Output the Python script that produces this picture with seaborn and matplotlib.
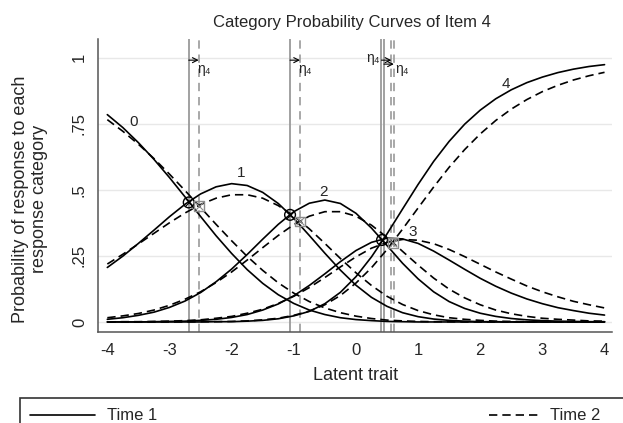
import pandas as pd
import matplotlib
matplotlib.use("Agg")
import matplotlib.pyplot as plt
import seaborn as sns
from matplotlib.lines import Line2D
from matplotlib.patches import Rectangle

# ---- data ----
theta = [-4.0, -3.75, -3.5, -3.25, -3.0, -2.75, -2.5, -2.25, -2.0, -1.75, -1.5, -1.25, -1.0,
         -0.75, -0.5, -0.25, 0.0, 0.25, 0.5, 0.75, 1.0, 1.25, 1.5, 1.75, 2.0, 2.25, 2.5, 2.75,
         3.0, 3.25, 3.5, 3.75, 4.0]

t1_cat0 = [.784, .735, .678, .615, .546, .473, .399, .326, .259, .198, .146, .103, .070, .045, .028, .016, .009,
           .005, .002, .001, .000, .000, .000, .000, .000, .000, .000, .000, .000, .000, .000, .000, .000]
t1_cat1 = [.206, .249, .297, .347, .398, .445, .484, .511, .523, .516, .490, .448, .392, .327, .260, .196, .139,
           .093, .059, .035, .020, .011, .006, .003, .001, .001, .000, .000, .000, .000, .000, .000, .000]
t1_cat2 = [.010, .016, .025, .037, .055, .079, .111, .152, .200, .255, .313, .369, .417, .449, .461, .448, .411,
           .355, .289, .222, .163, .114, .077, .051, .033, .021, .013, .008, .005, .003, .002, .001, .001]
t1_cat3 = [.000, .000, .000, .001, .002, .003, .006, .010, .017, .028, .045, .068, .099, .138, .182, .228, .270,
           .301, .317, .314, .297, .268, .234, .199, .165, .135, .109, .087, .069, .054, .043, .033, .026]
t1_cat4 = [.000, .000, .000, .000, .000, .000, .000, .001, .001, .003, .006, .012, .023, .040, .069, .112, .171,
           .246, .333, .427, .520, .607, .683, .748, .801, .844, .878, .905, .926, .943, .956, .966, .973]

t2_cat0 = [.765, .721, .672, .618, .559, .497, .433, .369, .307, .248, .195, .148, .109, .077, .053, .035, .022,
           .013, .007, .004, .002, .001, .001, .000, .000, .000, .000, .000, .000, .000, .000, .000, .000]
t2_cat1 = [.219, .256, .295, .335, .375, .412, .444, .468, .481, .481, .468, .440, .401, .352, .297, .240, .186,
           .138, .097, .066, .043, .027, .016, .010, .006, .003, .002, .001, .001, .000, .000, .000, .000]
t2_cat2 = [.016, .023, .032, .045, .063, .086, .114, .149, .189, .234, .281, .327, .368, .400, .417, .417, .400,
           .366, .320, .267, .215, .166, .124, .091, .065, .045, .031, .021, .014, .010, .007, .004, .003]
t2_cat3 = [.000, .001, .001, .002, .003, .005, .008, .014, .021, .033, .048, .070, .097, .130, .168, .208, .246,
           .279, .301, .312, .309, .296, .274, .247, .218, .189, .162, .136, .114, .095, .078, .065, .053]
t2_cat4 = [.000, .000, .000, .000, .000, .000, .001, .001, .002, .004, .008, .014, .025, .041, .065, .100, .147,
           .205, .274, .351, .431, .510, .585, .652, .711, .762, .805, .841, .871, .895, .915, .931, .944]

thresholds_t1 = [-2.69, -1.06, 0.41, 0.45]
thresholds_t2 = [-2.53, -0.90, 0.57, 0.61]
cross_t1_x = [-2.69, -1.06, 0.42]
cross_t1_y = [0.452, 0.405, 0.31]
cross_t2_x = [-2.53, -0.90, 0.59]
cross_t2_y = [0.44, 0.38, 0.30]
categories = ["0", "1", "2", "3", "4"]
cat_label_x = [-3.57, -1.85, -0.52, 0.92, 2.42]
cat_label_y = [0.755, 0.565, 0.49, 0.34, 0.90]
x_ticks = [-4, -3, -2, -1, 0, 1, 2, 3, 4]
y_ticks = [0, .25, .5, .75, 1]
y_tick_labels = ["0", ".25", ".5", ".75", "1"]

series = {"Time 1": [t1_cat0, t1_cat1, t1_cat2, t1_cat3, t1_cat4],
          "Time 2": [t2_cat0, t2_cat1, t2_cat2, t2_cat3, t2_cat4]}
rows = []
for t, curves in series.items():
    for k, vals in enumerate(curves):
        for th, v in zip(theta, vals):
            rows.append((th, v, categories[k], t))
df = pd.DataFrame(rows, columns=["theta", "prob", "cat", "time"])

# ---- drawing ----
W, H = 623, 423
sns.set_style("white")
plt.rcParams["font.family"] = ["Liberation Sans", "DejaVu Sans"]
fig = plt.figure(figsize=(6.23, 4.23), dpi=100)
ax = fig.add_axes([98/W, 1-332/H, 514/W, 293/H])
ax.set_xlim(-4.15, 4.12); ax.set_ylim(-0.038, 1.07)
for y in y_ticks:
    ax.axhline(y, color="#e8e8e8", lw=1, zorder=0)
for x in thresholds_t1:
    ax.axvline(x, color="#9a9a9a", lw=1.3, zorder=1)
for x in thresholds_t2:
    ax.axvline(x, color="#9a9a9a", lw=1.2, ls=(0, (5, 3.5)), zorder=1)
sns.lineplot(data=df, x="theta", y="prob", style="time", units="cat", estimator=None,
             color="black", lw=1.2, dashes={"Time 1": "", "Time 2": (5, 3)}, legend=False, ax=ax, zorder=3)
ax.set_xlabel(""); ax.set_ylabel("")
ax.set_xticks(x_ticks); ax.set_xticklabels([str(i) for i in x_ticks], fontsize=12)
ax.set_yticks(y_ticks); ax.set_yticklabels(y_tick_labels, fontsize=12, rotation=90, va="center")
ax.tick_params(axis="both", direction="out", length=5, width=1, color="#555555", pad=3)
for s in ["top", "right"]:
    ax.spines[s].set_visible(False)
for s in ["left", "bottom"]:
    ax.spines[s].set_color("#555555"); ax.spines[s].set_linewidth(1.1)

fig.text(352/W, 1-23/H, "Category Probability Curves of Item 4", ha="center", va="center", fontsize=12)
fig.text(356/W, 1-376/H, "Latent trait", ha="center", va="center", fontsize=13)
fig.text(30/W, 1-199/H, "Probability of response to each\nresponse category", ha="center", va="center",
         rotation=90, fontsize=13, linespacing=1.15)

ax.scatter(cross_t1_x, cross_t1_y, s=60, facecolor="none", edgecolor="black", lw=1, zorder=4)
ax.scatter(cross_t1_x, cross_t1_y, s=30, marker="x", color="black", lw=0.8, zorder=4)
ax.scatter(cross_t2_x, cross_t2_y, s=50, marker="s", facecolor="none", edgecolor="#8c8c8c", lw=1, zorder=4)
ax.scatter(cross_t2_x, cross_t2_y, s=30, marker="x", color="#8c8c8c", lw=0.8, zorder=4)

for lab, x, y in zip(categories, cat_label_x, cat_label_y):
    ax.text(x, y, lab, fontsize=11, ha="center", va="center")

ap = dict(arrowstyle="->", lw=0.8, color="black", shrinkA=0, shrinkB=0, mutation_scale=9)
arrow_y = [0.99, 0.99, 0.99, 0.975]
for x1, x2, y in zip(thresholds_t1, thresholds_t2, arrow_y):
    ax.annotate("", xy=(x2, y), xytext=(x1, y), arrowprops=ap)
for x, y, ha in [(-2.56, 0.955, "left"), (-0.93, 0.955, "left"), (0.38, 1.0, "right"), (0.63, 0.955, "left")]:
    ax.text(x, y, "η₄", fontsize=10, ha=ha, va="center")

fig.add_artist(Rectangle((20/W, -0.2), 1.0, 0.2 + 1 - 398/H, transform=fig.transFigure,
                         fill=False, edgecolor="#333333", lw=1.2, clip_on=False))
ly = 1 - 415/H
fig.add_artist(Line2D([30/W, 95/W], [ly, ly], color="black", lw=1.2))
fig.add_artist(Line2D([489/W, 542/W], [ly, ly], color="black", lw=1.2, ls=(0, (5, 3))))
fig.text(107/W, ly, "Time 1", fontsize=12, va="center")
fig.text(550/W, ly, "Time 2", fontsize=12, va="center")

fig.savefig("out.png")
